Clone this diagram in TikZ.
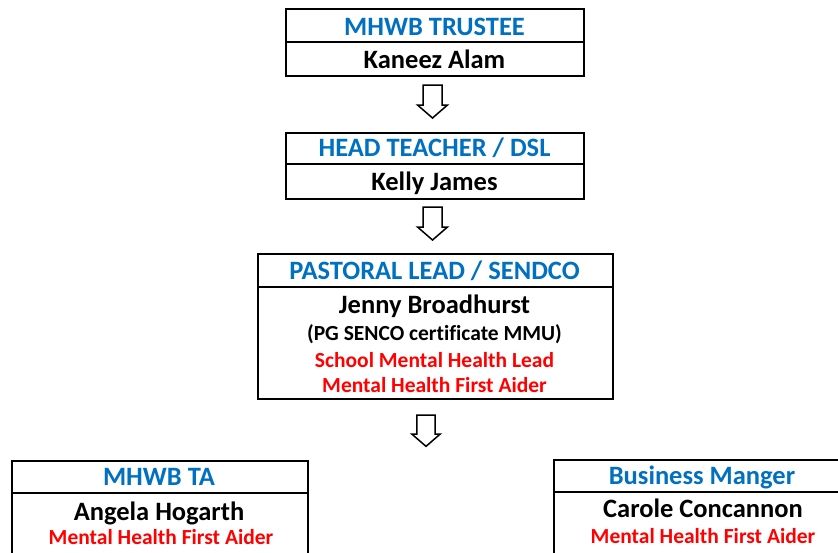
\documentclass[tikz,border=0pt]{standalone}
\usepackage{fontspec}
\setmainfont{Carlito}[Ligatures=NoCommon]
\definecolor{tblue}{RGB}{0,112,192}
\definecolor{tred}{RGB}{255,0,0}
\begin{document}
\begin{tikzpicture}[x=1pt,y=-1pt,
  box/.style={draw=black,line width=2pt,inner sep=0pt,anchor=north west},
  sep/.style={line width=2pt},
  big/.style={anchor=base,inner sep=0pt,font=\fontsize{26.5}{30}\selectfont\bfseries},
  small/.style={anchor=base,inner sep=0pt,font=\fontsize{21.5}{25}\selectfont\bfseries},
  ttl/.style={big,text=tblue},
  nm/.style={big,text=black},
  nt/.style={small,text=black},
  rd/.style={small,text=tred},
  arrowline/.style={draw=black,line width=1.5pt,fill=white,line join=miter},
  blockarrow/.pic={\path[arrowline] (-9.5,0) -- (9.5,0) -- (9.5,20) -- (15,20) -- (0,33) -- (-15,20) -- (-9.5,20) -- cycle;}
]
\useasboundingbox (0,0) rectangle (838,552);
\clip (0,0) rectangle (838,552);
\fill[white] (0,0) rectangle (838,552);

% Box 1
\node[box,minimum width=298pt,minimum height=67pt] (b1) at (285,8) {};
\draw[sep] (285,42) -- (583,42);
\node[ttl] (t1) at (434.5,35) {MHWB TRUSTEE};
\node[nm] (n1) at (434.5,68) {Kaneez Alam};

% Arrow 1
\pic at (432.5,85) {blockarrow};

% Box 2
\node[box,minimum width=298pt,minimum height=66pt] (b2) at (285,132) {};
\draw[sep] (285,164) -- (583,164);
\node[ttl] (t2) at (434.5,156) {HEAD TEACHER / DSL};
\node[nm] (n2) at (434.5,190) {Kelly James};

% Arrow 2
\pic at (432.5,207) {blockarrow};

% Box 3
\node[box,minimum width=355pt,minimum height=145pt] (b3) at (257,253) {};
\draw[sep] (257,287) -- (612,287);
\node[ttl] (t3) at (434.5,279) {PASTORAL LEAD / SENDCO};
\node[nm] (n3) at (434.5,313) {Jenny Broadhurst};
\node[nt] (c3) at (434.5,340) {(PG SENCO certificate MMU)};
\node[rd] (r3a) at (434.5,367) {School Mental Health Lead};
\node[rd] (r3b) at (434.5,392) {Mental Health First Aider};

% Arrow 3
\pic[scale=0.95] at (426,415) {blockarrow};

% Box 4
\node[box,minimum width=296pt,minimum height=120pt] (b4) at (11,460) {};
\draw[sep] (11,493) -- (307,493);
\node[ttl] (t4) at (159,485) {MHWB TA};
\node[nm] (n4) at (159,520) {Angela Hogarth};
\node[rd] (r4) at (161,544) {Mental Health First Aider};

% Box 5
\node[box,minimum width=300pt,minimum height=120pt] (b5) at (553,459) {};
\draw[sep] (553,492) -- (853,492);
\node[ttl] (t5) at (702,484) {Business Manger};
\node[nm] (n5) at (703,517) {Carole Concannon};
\node[rd] (r5) at (703,543) {Mental Health First Aider};
\end{tikzpicture}
\end{document}
